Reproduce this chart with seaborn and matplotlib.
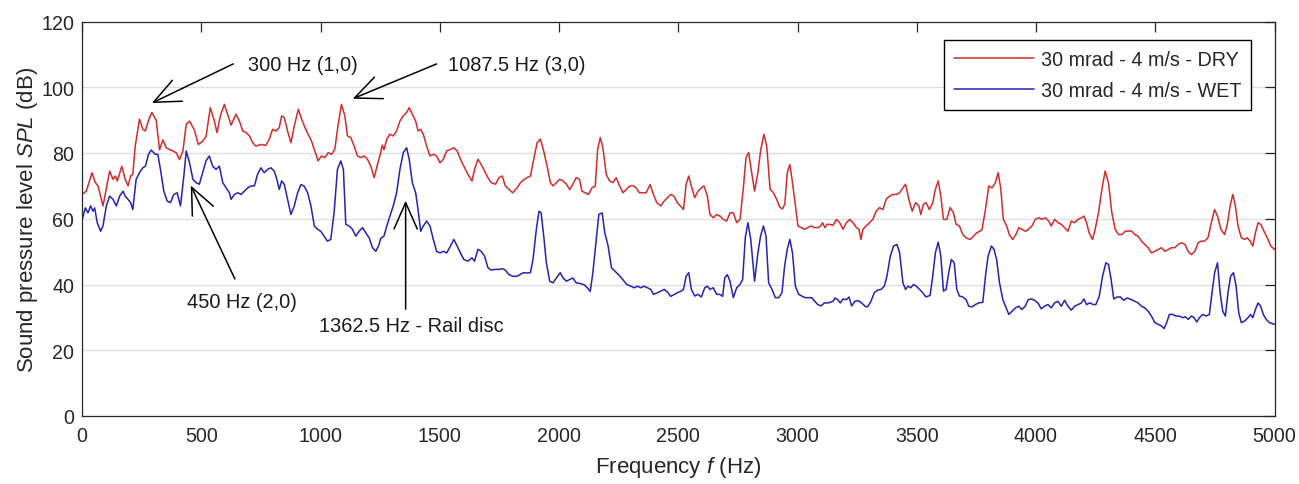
import numpy as np
import pandas as pd
import matplotlib
matplotlib.use("Agg")
import matplotlib.pyplot as plt
from matplotlib import font_manager
from matplotlib.lines import Line2D
import seaborn as sns

# Spectrum (frequency in Hz, SPL in dB)
freq_dry = [0, 18, 42, 56, 67, 88, 116, 130, 140, 148, 167, 181, 193, 204, 213, 223, 241, 255, 266, 279,
            293, 311, 325, 339, 353, 367, 381, 395, 409, 423, 437, 451, 471, 488, 506, 520, 538, 555, 566, 580,
            597, 625, 646, 660, 674, 688, 702, 716, 729, 750, 771, 785, 799, 813, 827, 837, 848, 862, 876, 890,
            907, 921, 935, 948, 962, 976, 990, 1004, 1018, 1032, 1046, 1060, 1074, 1088, 1102, 1113, 1127, 1141, 1155, 1169,
            1183, 1197, 1211, 1225, 1239, 1252, 1259, 1266, 1278, 1291, 1305, 1319, 1333, 1347, 1361, 1372, 1385, 1399, 1409, 1420,
            1431, 1445, 1459, 1473, 1487, 1501, 1515, 1529, 1545, 1559, 1573, 1587, 1601, 1618, 1635, 1646, 1660, 1674, 1688, 1702,
            1715, 1734, 1748, 1762, 1775, 1789, 1806, 1824, 1838, 1852, 1866, 1880, 1894, 1908, 1922, 1936, 1950, 1964, 1975, 1989,
            2003, 2017, 2031, 2045, 2058, 2072, 2086, 2096, 2110, 2124, 2138, 2152, 2162, 2173, 2184, 2198, 2212, 2226, 2240, 2254,
            2268, 2282, 2296, 2310, 2323, 2337, 2351, 2365, 2382, 2396, 2410, 2427, 2441, 2455, 2468, 2482, 2496, 2508, 2522, 2533,
            2544, 2555, 2569, 2583, 2597, 2608, 2622, 2633, 2647, 2661, 2675, 2689, 2703, 2717, 2731, 2745, 2759, 2773, 2784, 2795,
            2806, 2820, 2834, 2845, 2859, 2871, 2885, 2898, 2912, 2926, 2937, 2947, 2957, 2968, 2979, 2991, 3002, 3016, 3030, 3044,
            3057, 3071, 3085, 3097, 3105, 3115, 3124, 3138, 3149, 3163, 3177, 3191, 3205, 3219, 3233, 3247, 3258, 3266, 3274, 3288,
            3302, 3316, 3330, 3344, 3358, 3372, 3386, 3400, 3414, 3428, 3442, 3453, 3467, 3481, 3495, 3509, 3517, 3528, 3539, 3553,
            3567, 3578, 3590, 3601, 3612, 3626, 3640, 3654, 3665, 3679, 3693, 3707, 3724, 3738, 3751, 3765, 3774, 3788, 3802, 3816,
            3830, 3841, 3852, 3863, 3877, 3888, 3902, 3916, 3928, 3941, 3955, 3969, 3983, 3997, 4011, 4025, 4039, 4053, 4064, 4078,
            4092, 4106, 4120, 4134, 4148, 4162, 4176, 4190, 4201, 4212, 4223, 4237, 4248, 4262, 4276, 4290, 4304, 4318, 4332, 4346,
            4360, 4374, 4400, 4414, 4428, 4442, 4456, 4470, 4484, 4498, 4512, 4526, 4540, 4554, 4568, 4582, 4596, 4610, 4624, 4638,
            4652, 4666, 4680, 4693, 4707, 4721, 4735, 4749, 4761, 4775, 4791, 4802, 4814, 4825, 4836, 4847, 4861, 4875, 4886, 4898,
            4909, 4920, 4931, 4942, 4956, 4970, 4984, 5000]
spl_dry = [67.4, 68.4, 74.0, 71.0, 70.0, 63.9, 74.5, 72.0, 73.0, 71.5, 76.0, 72.0, 70.0, 73.0, 73.5, 82.0, 90.3, 87.2, 86.7, 90.0,
           92.3, 90.0, 81.0, 84.0, 81.6, 81.1, 80.6, 80.1, 78.0, 80.6, 88.7, 89.7, 87.0, 82.6, 83.6, 85.0, 93.8, 89.7, 86.2, 91.3,
           94.8, 88.5, 91.8, 89.7, 86.7, 86.2, 85.2, 83.1, 82.1, 82.6, 82.3, 84.2, 87.2, 86.7, 87.7, 91.3, 90.8, 86.7, 83.1, 88.2,
           93.3, 90.3, 87.7, 85.7, 83.7, 80.6, 77.6, 79.1, 78.6, 80.1, 79.6, 81.1, 88.7, 94.8, 91.3, 85.2, 84.7, 82.1, 79.1, 78.6,
           79.1, 78.1, 76.0, 72.5, 76.5, 80.0, 82.4, 81.0, 84.2, 85.7, 85.2, 86.7, 89.7, 91.3, 92.3, 93.8, 91.8, 89.7, 86.7, 87.2,
           85.7, 82.1, 79.1, 79.6, 79.1, 77.0, 78.1, 80.6, 81.1, 81.6, 80.6, 78.1, 76.0, 73.5, 71.5, 75.0, 78.1, 76.5, 74.5, 72.5,
           71.0, 70.5, 72.5, 73.0, 70.0, 69.0, 67.9, 69.4, 70.9, 71.9, 72.5, 73.0, 78.1, 83.1, 84.2, 80.6, 76.0, 71.0, 70.0, 71.0,
           72.0, 71.5, 70.5, 68.9, 70.5, 72.5, 72.0, 68.4, 67.9, 67.4, 69.4, 69.9, 81.1, 84.7, 81.6, 73.5, 71.5, 71.0, 72.5, 70.0,
           67.9, 68.9, 69.9, 70.1, 69.4, 67.9, 67.9, 67.9, 70.4, 67.4, 64.9, 63.9, 65.4, 66.4, 67.4, 66.9, 64.9, 64.0, 62.8, 70.4,
           73.0, 69.9, 66.4, 68.4, 69.4, 70.0, 66.9, 61.3, 60.3, 61.3, 60.8, 59.8, 59.3, 61.8, 61.8, 58.8, 59.8, 69.4, 78.6, 80.1,
           75.0, 68.4, 74.0, 80.6, 85.7, 82.1, 69.0, 68.0, 66.0, 63.5, 63.0, 64.5, 74.0, 76.5, 71.0, 64.0, 57.8, 57.3, 56.8, 57.3,
           57.8, 57.3, 57.3, 57.8, 58.8, 57.3, 58.3, 58.3, 58.0, 59.8, 58.8, 56.8, 58.8, 59.8, 58.8, 57.3, 56.8, 53.7, 56.8, 57.8,
           58.8, 59.8, 62.3, 63.4, 62.8, 65.9, 66.9, 67.4, 67.4, 67.9, 69.4, 70.5, 65.9, 62.3, 64.9, 63.9, 61.3, 64.4, 64.9, 62.8,
           64.9, 68.9, 71.5, 66.9, 59.8, 59.8, 63.4, 61.8, 58.3, 57.8, 55.2, 54.2, 53.7, 54.7, 55.7, 56.2, 56.8, 62.8, 70.0, 69.4,
           71.0, 74.0, 69.4, 59.8, 57.8, 55.2, 53.7, 55.2, 57.3, 56.8, 56.2, 56.8, 57.8, 59.8, 60.3, 59.8, 60.3, 59.3, 57.8, 59.8,
           58.8, 58.3, 57.3, 56.2, 59.3, 58.8, 59.8, 60.3, 60.8, 58.8, 55.7, 53.7, 56.8, 61.8, 68.9, 74.5, 70.9, 61.8, 56.8, 55.2,
           55.2, 56.2, 56.3, 55.2, 54.7, 53.2, 52.2, 51.2, 49.6, 50.1, 50.6, 51.2, 50.1, 50.6, 51.2, 51.2, 52.2, 52.7, 52.2, 50.1,
           49.1, 50.1, 52.7, 53.2, 53.2, 54.2, 58.8, 62.8, 60.8, 56.8, 55.2, 58.3, 63.9, 67.4, 63.9, 57.8, 54.2, 53.7, 54.2, 53.2,
           51.7, 55.7, 58.8, 58.3, 56.2, 54.2, 51.7, 50.7]

freq_wet = [0, 14, 25, 36, 46, 53, 64, 78, 88, 102, 116, 130, 144, 158, 172, 181, 193, 204, 213, 227,
            241, 255, 266, 279, 290, 307, 318, 329, 343, 357, 371, 385, 399, 413, 427, 437, 451, 465, 478, 492,
            506, 520, 534, 548, 562, 576, 590, 604, 618, 625, 639, 653, 667, 681, 695, 709, 723, 736, 750, 764,
            778, 792, 806, 817, 827, 837, 848, 862, 876, 890, 904, 918, 932, 946, 960, 974, 988, 1001, 1015, 1029,
            1043, 1057, 1071, 1085, 1096, 1106, 1120, 1134, 1148, 1162, 1176, 1190, 1204, 1218, 1232, 1246, 1252, 1266, 1278, 1291,
            1305, 1319, 1333, 1347, 1361, 1372, 1385, 1399, 1409, 1420, 1431, 1445, 1459, 1473, 1487, 1501, 1515, 1529, 1545, 1559,
            1573, 1587, 1601, 1618, 1635, 1646, 1660, 1674, 1688, 1702, 1715, 1734, 1748, 1762, 1775, 1789, 1806, 1824, 1838, 1852,
            1866, 1880, 1891, 1905, 1916, 1925, 1936, 1947, 1961, 1975, 1989, 2005, 2017, 2031, 2045, 2058, 2072, 2089, 2106, 2120,
            2131, 2142, 2156, 2167, 2181, 2192, 2206, 2220, 2234, 2248, 2262, 2273, 2284, 2301, 2315, 2329, 2343, 2357, 2371, 2385,
            2396, 2413, 2427, 2441, 2455, 2468, 2482, 2496, 2510, 2522, 2533, 2544, 2555, 2569, 2583, 2597, 2611, 2622, 2633, 2647,
            2661, 2675, 2686, 2695, 2706, 2717, 2731, 2745, 2759, 2770, 2781, 2792, 2804, 2820, 2834, 2845, 2857, 2868, 2879, 2893,
            2907, 2921, 2935, 2946, 2957, 2968, 2979, 2991, 3005, 3018, 3032, 3046, 3060, 3071, 3085, 3099, 3113, 3127, 3138, 3149,
            3157, 3168, 3180, 3191, 3205, 3216, 3227, 3241, 3255, 3269, 3283, 3294, 3308, 3322, 3336, 3350, 3364, 3375, 3389, 3403,
            3417, 3428, 3442, 3453, 3464, 3475, 3486, 3498, 3512, 3525, 3539, 3556, 3567, 3578, 3590, 3601, 3612, 3623, 3634, 3645,
            3657, 3668, 3679, 3693, 3707, 3718, 3732, 3746, 3760, 3777, 3788, 3799, 3813, 3824, 3835, 3847, 3861, 3875, 3886, 3900,
            3914, 3928, 3941, 3955, 3967, 3981, 3994, 4008, 4022, 4036, 4050, 4064, 4078, 4092, 4106, 4120, 4134, 4148, 4162, 4176,
            4190, 4201, 4212, 4226, 4240, 4251, 4265, 4279, 4293, 4304, 4315, 4326, 4340, 4354, 4368, 4382, 4400, 4414, 4428, 4442,
            4456, 4470, 4484, 4498, 4512, 4526, 4537, 4548, 4559, 4573, 4587, 4601, 4615, 4626, 4638, 4652, 4663, 4674, 4685, 4699,
            4713, 4727, 4738, 4749, 4761, 4772, 4783, 4794, 4805, 4816, 4828, 4839, 4850, 4861, 4875, 4889, 4900, 4909, 4920, 4931,
            4942, 4953, 4965, 4979, 5000]
spl_wet = [59.5, 63.3, 61.8, 63.9, 62.3, 63.3, 58.8, 56.2, 57.8, 63.9, 66.9, 65.9, 63.9, 66.9, 68.4, 66.9, 65.9, 64.9, 62.8, 72.0,
           74.0, 75.5, 76.0, 79.6, 80.9, 79.6, 79.6, 75.0, 68.4, 65.4, 64.9, 67.4, 67.9, 63.9, 73.0, 80.6, 77.0, 72.0, 71.0, 70.5,
           74.0, 77.6, 79.1, 76.0, 75.0, 76.0, 71.0, 69.4, 67.9, 65.9, 67.4, 67.9, 67.4, 68.4, 69.4, 70.0, 70.0, 73.5, 75.5, 74.0,
           75.0, 75.5, 74.5, 72.0, 68.9, 71.5, 70.5, 65.9, 61.3, 63.9, 67.9, 70.4, 69.9, 67.9, 63.9, 57.8, 56.8, 56.2, 54.7, 53.2,
           53.7, 61.8, 75.0, 77.6, 75.0, 58.3, 57.8, 56.8, 54.7, 56.2, 57.3, 55.7, 54.2, 51.2, 50.1, 52.2, 54.0, 54.7, 57.8, 60.8,
           63.9, 67.9, 75.0, 80.1, 81.6, 78.1, 71.0, 67.9, 62.8, 56.2, 57.8, 59.3, 57.8, 53.7, 50.1, 49.6, 50.1, 49.6, 51.7, 53.7,
           51.7, 49.6, 47.6, 47.1, 48.1, 47.1, 50.7, 50.1, 48.6, 45.1, 44.4, 44.6, 44.6, 44.8, 44.4, 43.1, 42.5, 42.5, 43.1, 43.6,
           43.5, 43.6, 47.6, 56.8, 62.3, 61.8, 54.7, 46.6, 41.0, 40.5, 42.0, 43.6, 42.0, 41.0, 41.5, 42.0, 40.5, 40.3, 39.9, 38.9,
           37.9, 43.6, 53.7, 61.3, 61.8, 55.7, 51.7, 45.1, 44.1, 43.1, 42.0, 41.0, 40.0, 39.5, 39.0, 39.5, 39.0, 39.5, 39.0, 38.5,
           37.0, 37.5, 38.0, 38.5, 37.7, 36.4, 36.9, 37.5, 37.9, 38.5, 42.5, 43.6, 38.5, 36.5, 37.0, 36.2, 39.0, 39.5, 38.5, 39.0,
           37.0, 37.0, 36.4, 42.0, 43.0, 41.0, 36.0, 39.0, 40.0, 41.5, 54.2, 58.8, 53.7, 41.0, 49.6, 54.7, 57.8, 54.7, 40.5, 38.5,
           36.0, 36.0, 37.5, 45.6, 50.7, 53.7, 49.6, 39.5, 37.0, 36.5, 36.0, 36.0, 36.0, 35.0, 33.9, 33.5, 34.4, 34.4, 34.6, 34.9,
           35.9, 35.4, 34.4, 35.6, 35.4, 36.2, 33.5, 34.9, 35.1, 34.4, 33.4, 33.2, 34.9, 37.5, 38.3, 38.5, 39.5, 42.5, 48.6, 51.7,
           52.2, 49.7, 40.5, 38.5, 39.5, 39.0, 40.0, 39.5, 38.5, 37.5, 36.2, 36.7, 42.5, 49.6, 52.9, 48.6, 38.0, 38.5, 43.6, 47.6,
           46.6, 38.5, 36.5, 36.2, 35.4, 33.4, 33.2, 33.9, 34.4, 34.6, 42.5, 48.6, 51.7, 50.7, 47.6, 40.5, 35.4, 32.9, 30.9, 31.9,
           32.9, 33.4, 32.4, 33.4, 35.4, 35.6, 35.2, 34.4, 32.6, 33.4, 33.9, 32.9, 34.4, 34.9, 33.4, 35.2, 33.4, 32.2, 33.4, 33.9,
           34.4, 35.6, 33.9, 34.4, 33.9, 33.9, 36.4, 42.5, 46.6, 46.1, 41.5, 35.6, 36.2, 36.2, 35.2, 35.9, 35.4, 34.9, 34.4, 33.4,
           32.9, 31.9, 30.4, 28.4, 27.9, 27.4, 26.6, 28.4, 30.9, 30.9, 30.4, 30.4, 29.9, 30.2, 29.4, 30.4, 29.9, 28.6, 29.9, 30.9,
           30.4, 30.9, 37.5, 43.6, 46.6, 37.5, 31.9, 30.4, 37.5, 42.5, 43.6, 39.5, 31.4, 28.4, 28.9, 29.9, 30.9, 29.9, 32.4, 34.4,
           33.4, 30.9, 29.4, 28.4, 27.9]

labels = ["30 mrad - 4 m/s - DRY", "30 mrad - 4 m/s - WET"]
colors = {labels[0]: "#d42a2a", labels[1]: "#2323b4"}

df = pd.concat([
    pd.DataFrame({"freq": freq_dry, "spl": spl_dry, "case": labels[0]}),
    pd.DataFrame({"freq": freq_wet, "spl": spl_wet, "case": labels[1]}),
], ignore_index=True)

sns.set_theme(style="white")

# narrow Arial-like face if installed, otherwise regular Liberation Sans sized to the same widths
installed = {f.name for f in font_manager.fontManager.ttflist}
if "Liberation Sans Narrow" in installed:
    face, k = "Liberation Sans Narrow", 1 / 0.82
else:
    face, k = "Liberation Sans", 1.0
plt.rcParams["font.family"] = [face, "DejaVu Sans"]
plt.rcParams["mathtext.fontset"] = "custom"
plt.rcParams["mathtext.it"] = face + ":italic"
plt.rcParams["mathtext.rm"] = face

fs_tick = 14.1 * k
fs_text = 14.4 * k
fs_label = 16 * k

fig = plt.figure(figsize=(12.99, 4.85), dpi=100)
ax = fig.add_axes([82 / 1299, 1 - 417 / 485, (1274.5 - 82) / 1299, (417 - 22.5) / 485])

sns.lineplot(data=df, x="freq", y="spl", hue="case", palette=colors, estimator=None,
             linewidth=1.1, legend=False, ax=ax)

ax.set_xlim(0, 5000)
ax.set_ylim(0, 120)
ax.set_xticks(np.arange(0, 5001, 500))
ax.set_yticks(np.arange(0, 121, 20))
ax.yaxis.grid(True, color="#dedede", linewidth=1)
ax.xaxis.grid(False)
ax.tick_params(direction="in", length=7, width=0.9, top=True, right=True,
               labelsize=fs_tick, colors="#262626")
ax.tick_params(axis="x", pad=7)
ax.tick_params(axis="y", pad=5.5)
for s in ax.spines.values():
    s.set_color("#262626")
    s.set_linewidth(0.9)

ax.set_xlabel("Frequency $f$ (Hz)", fontsize=fs_label, color="#262626", labelpad=7)
ax.set_ylabel("Sound pressure level $SPL$ (dB)", fontsize=fs_label, color="#262626", labelpad=1)

handles = [Line2D([], [], color=colors[l], lw=1.1) for l in labels]
leg = ax.legend(handles, labels, loc="upper right", bbox_to_anchor=(0.9807, 0.9527),
                borderaxespad=0, frameon=True, fancybox=False, edgecolor="black",
                framealpha=1, fontsize=14.2 * k, handlelength=4.06, labelspacing=0.6,
                borderpad=0.5, handletextpad=0.36)
leg.get_frame().set_linewidth(1.0)

arrow = dict(arrowstyle="->,head_length=0.5,head_width=0.22", color="black",
             lw=1.1, mutation_scale=38, shrinkA=0, shrinkB=0)
ax.annotate("", xy=(293, 95.2), xytext=(634, 107.1), arrowprops=arrow)
ax.annotate("", xy=(1135, 96.5), xytext=(1487, 107.1), arrowprops=arrow)
ax.annotate("", xy=(456, 70.1), xytext=(641, 41.7), arrowprops=arrow)
ax.annotate("", xy=(1357, 65.5), xytext=(1357, 32.5), arrowprops=arrow)

ax.text(695, 106.8, "300 Hz (1,0)", fontsize=fs_text, ha="left", va="center", color="#1a1a1a")
ax.text(1535, 106.8, "1087.5 Hz (3,0)", fontsize=fs_text, ha="left", va="center", color="#1a1a1a")
ax.text(439, 34.7, "450 Hz (2,0)", fontsize=fs_text, ha="left", va="center", color="#1a1a1a")
ax.text(994, 27.5, "1362.5 Hz - Rail disc", fontsize=fs_text, ha="left", va="center", color="#1a1a1a")

fig.savefig("out.png", dpi=100)
